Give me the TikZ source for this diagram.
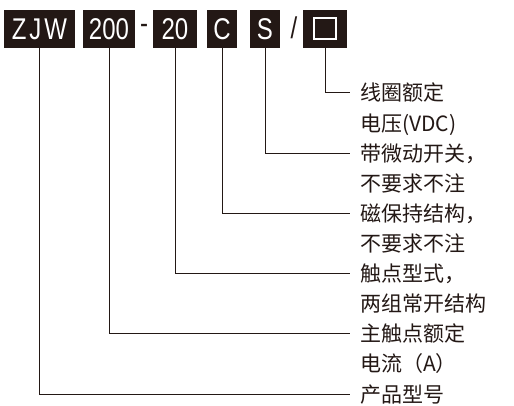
\documentclass[tikz,border=0pt]{standalone}
\usepackage{fontspec}
\usetikzlibrary{positioning}
\newfontfamily\cjk{Noto Sans CJK SC}
\newfontfamily\codefont[FakeStretch=0.8]{Liberation Sans}
\definecolor{ink}{RGB}{35,24,21}
\tikzset{
  code/.style={fill=ink, text=white, inner sep=0pt, minimum height=38pt, minimum width=#1, font=\codefont\fontsize{30}{32}\selectfont},
  code/.default=30pt,
  sep/.style={text=ink, inner sep=0pt, font=\codefont\fontsize{30}{32}\selectfont},
  lab/.style={text=ink, anchor=west, inner sep=0pt, outer xsep=10pt, text height=16pt, text depth=0pt, font=\cjk\fontsize{21}{24}\selectfont},
  labnext/.style={lab, below=of #1.south west, anchor=north west},
  lead/.style={draw=ink, line width=1pt},
}
\begin{document}
\begin{tikzpicture}[x=1pt, y=-1pt, node distance=13.7pt]
  \useasboundingbox (0,0) rectangle (514,406);
  % code boxes
  \node[code=71pt] (zjw) at (39.5,29) {Z\kern3pt J\kern3pt W};
  \node[code=52pt] (n200) at (109,29) {200};
  \node[sep] (dash) at (144,29) {-};
  \node[code=44pt] (n20) at (175,29) {20};
  \node[code=30pt] (nc) at (222,29) {C};
  \node[code=30pt] (ns) at (265,29) {S};
  \node[sep] (slash) at (294,28) {/};
  \node[code=44pt] (nsq) at (325,29) {};
  \node[draw=white, line width=2pt, minimum width=22pt, minimum height=21pt, inner sep=0pt] (blank) at (nsq) {};
  % labels
  \node[lab] (coil) at (350,93) {线圈额定};
  \node[labnext=coil] (coilb) {电压(VDC)};
  \node[labnext=coilb] (micro) {带微动开关，};
  \node[labnext=micro] (microb) {不要求不注};
  \node[labnext=microb] (latch) {磁保持结构，};
  \node[labnext=latch] (latchb) {不要求不注};
  \node[labnext=latchb] (contact) {触点型式，};
  \node[labnext=contact] (contactb) {两组常开结构};
  \node[labnext=contactb] (rated) {主触点额定};
  \node[labnext=rated] (ratedb) {电流（A）};
  \node[labnext=ratedb] (model) {产品型号};
  % leaders
  \draw[lead] (nsq.south) |- (coil.west);
  \draw[lead] (ns.south) |- (micro.west);
  \draw[lead] (nc.south) |- (latch.west);
  \draw[lead] (n20.south) |- (contact.west);
  \draw[lead] (n200.south) |- (rated.west);
  \draw[lead] (zjw.south) |- (model.west);
\end{tikzpicture}
\end{document}
